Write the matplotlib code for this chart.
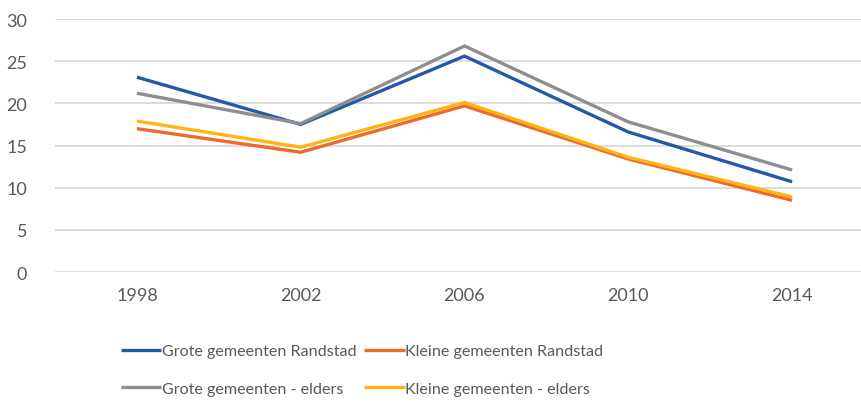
import matplotlib
matplotlib.use("Agg")
import matplotlib.pyplot as plt

years = ["1998", "2002", "2006", "2010", "2014"]
grote_randstad = [23.1, 17.5, 25.6, 16.6, 10.7]
kleine_randstad = [17.0, 14.2, 19.7, 13.4, 8.5]
grote_elders = [21.2, 17.6, 26.8, 17.8, 12.1]
kleine_elders = [17.9, 14.8, 20.1, 13.6, 8.9]

labels = ["Grote gemeenten Randstad", "Kleine gemeenten Randstad",
          "Grote gemeenten - elders", "Kleine gemeenten - elders"]
colors = ["#2458A8", "#EE6A2A", "#8E8E8E", "#FDB515"]
series = [grote_randstad, kleine_randstad, grote_elders, kleine_elders]

plt.rcParams['font.family'] = ['Lato', 'DejaVu Sans']
txt = "#595959"

fig = plt.figure(figsize=(8.61, 4.10), dpi=100)
W, H = 861, 410
left, right = 55, 874
top, bottom = 20, 273
ax = fig.add_axes([left / W, 1 - bottom / H, (right - left) / W, (bottom - top) / H])

x = list(range(len(years)))
handles = []
for s, c, l in zip(series, colors, labels):
    h, = ax.plot(x, s, color=c, lw=2.4, label=l, solid_capstyle='butt', solid_joinstyle='miter')
    handles.append(h)

ax.set_xlim(-0.5, 4.5)
ax.set_ylim(0, 30)
ax.set_yticks(range(0, 31, 5))
ax.set_xticks(x)
ax.set_xticklabels(years)
ax.grid(axis='y', color='#D9D9D9', lw=1.3)
ax.set_axisbelow(True)
for sp in ax.spines.values():
    sp.set_visible(False)
ax.tick_params(length=0, colors=txt, labelsize=13)
ax.tick_params(axis='y', pad=20)
ax.tick_params(axis='x', pad=11)

order = [0, 2, 1, 3]
leg = fig.legend(handles=[handles[i] for i in order],
                 labels=[labels[i] for i in order],
                 loc='center', bbox_to_anchor=(362 / W, 1 - 371 / H), ncol=2,
                 frameon=False, fontsize=11.6, handlelength=2.5, handletextpad=0.05,
                 columnspacing=0.5, labelspacing=1.45, labelcolor=txt)

fig.savefig("out.png", dpi=100)
